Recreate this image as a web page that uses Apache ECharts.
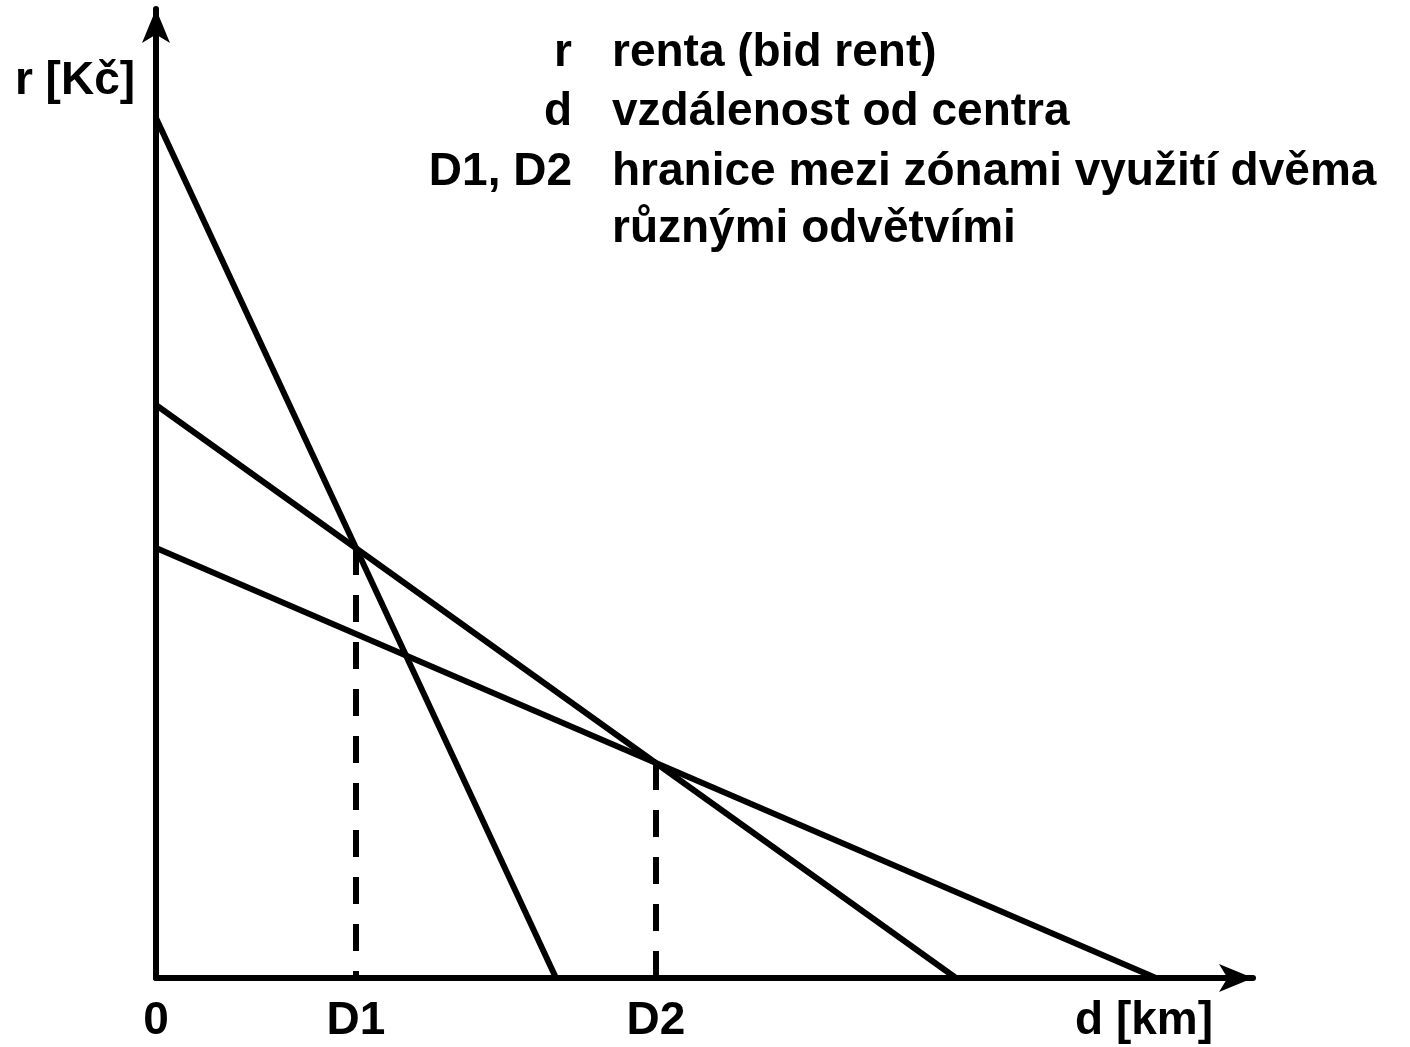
<!DOCTYPE html>
<html>
<head>
<meta charset="utf-8">
<script src="https://cdn.jsdelivr.net/npm/echarts@6/dist/echarts.min.js"></script>
<style>
html,body{margin:0;padding:0;background:#fff;}
#chart{width:1410px;height:1047px;}
</style>
</head>
<body>
<div id="chart"></div>
<script>
// Bid-rent lines (distance d, rent r)
const steepLine   = [[0, 8.6], [4, 0]];
const middleLine  = [[0, 5.73], [8, 0]];
const shallowLine = [[0, 4.3], [10, 0]];
// Zone boundaries D1, D2 (dashed verticals from intersection down to axis)
const boundaryD1 = [[2, 4.3], [2, 0]];
const boundaryD2 = [[5, 2.15], [5, 0]];
// X-axis tick labels
const xTickValues = [0, 2, 5, 9.88];
const xTickLabels = ['0', 'D1', 'D2', 'd [km]'];
// Axis title & legend texts
const yAxisTitle = 'r [Kč]';
const legendKeys = ['r', 'd', 'D1, D2', ''];
const legendDescs = ['renta (bid rent)', 'vzdálenost od centra', 'hranice mezi zónami využití dvěma', 'různými odvětvími'];

const FONT = '"Liberation Sans", Arial, sans-serif';
const chart = echarts.init(document.getElementById('chart'), null, {renderer: 'canvas'});

const solid = {color: '#000', width: 6};
const dashed = {color: '#000', width: 6, type: [27, 20]};

const legendRowsY = [53, 112, 172, 229];
const graphics = [
  {type: 'text', x: 75, y: 81, style: {text: yAxisTitle, font: 'bold 46px ' + FONT, fill: '#000', align: 'center', verticalAlign: 'middle'}}
];
legendKeys.forEach((k, i) => {
  if (k) graphics.push({type: 'text', x: 572, y: legendRowsY[i], style: {text: k, font: 'bold 46px ' + FONT, fill: '#000', align: 'right', verticalAlign: 'middle'}});
  graphics.push({type: 'text', x: 612, y: legendRowsY[i], style: {text: legendDescs[i], font: 'bold 46px ' + FONT, fill: '#000', align: 'left', verticalAlign: 'middle'}});
});

chart.setOption({
  animation: false,
  backgroundColor: '#fff',
  grid: {left: 156, right: 157, top: 9, bottom: 69, containLabel: false},
  xAxis: {
    type: 'value', min: 0, max: 10.97,
    splitLine: {show: false},
    axisTick: {show: false},
    axisLine: {show: true, onZero: false, symbol: ['none', 'arrow'], symbolSize: [21, 34], lineStyle: {color: '#000', width: 6}},
    axisLabel: {
      show: true, customValues: xTickValues, margin: 20,
      color: '#000', fontSize: 46, fontWeight: 'bold', fontFamily: FONT,
      formatter: function (v) { const i = xTickValues.indexOf(v); return i >= 0 ? xTickLabels[i] : ''; }
    }
  },
  yAxis: {
    type: 'value', min: 0, max: 9.69,
    splitLine: {show: false},
    axisTick: {show: false},
    axisLabel: {show: false},
    axisLine: {show: true, onZero: false, symbol: ['none', 'arrow'], symbolSize: [21, 34], lineStyle: {color: '#000', width: 6}}
  },
  series: [
    {type: 'line', data: steepLine, symbol: 'none', lineStyle: solid, silent: true},
    {type: 'line', data: middleLine, symbol: 'none', lineStyle: solid, silent: true},
    {type: 'line', data: shallowLine, symbol: 'none', lineStyle: solid, silent: true},
    {type: 'line', data: boundaryD1, symbol: 'none', lineStyle: dashed, silent: true},
    {type: 'line', data: boundaryD2, symbol: 'none', lineStyle: dashed, silent: true}
  ],
  graphic: graphics
});
</script>
</body>
</html>
